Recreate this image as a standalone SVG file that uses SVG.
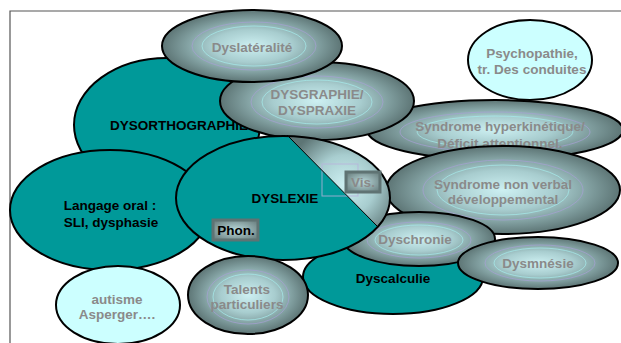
<svg xmlns="http://www.w3.org/2000/svg" width="621" height="343" viewBox="0 0 621 343">
<style>
.e{stroke:#000;stroke-width:2}
.teal{fill:#009999}
.cyan{fill:#ccffff}
.gray{fill:url(#rg)}
.r1{fill:none;stroke:#a79fd4;stroke-width:1;opacity:.7}
.r2{fill:none;stroke:#a6ecec;stroke-width:1;opacity:.7}
text{font-family:"Liberation Sans",Arial,sans-serif;font-weight:bold;font-size:13.5px;text-anchor:middle}
.dk{fill:#000}
.lt{fill:#8a8a8a}
.box{fill:url(#bg);stroke:#5f7373;stroke-width:3}
</style>
<defs>
<radialGradient id="rg" cx="50%" cy="50%" r="50%">
<stop offset="0" stop-color="#cdf0f2"/>
<stop offset="0.45" stop-color="#a8cdcf"/>
<stop offset="1" stop-color="#5d7575"/>
</radialGradient>
<radialGradient id="bg" cx="50%" cy="50%" r="60%">
<stop offset="0" stop-color="#b8d8da"/>
<stop offset="1" stop-color="#6f8585"/>
</radialGradient>
<radialGradient id="dg" gradientUnits="userSpaceOnUse" cx="345" cy="185" r="60">
<stop offset="0" stop-color="#cdf0f2"/>
<stop offset="0.5" stop-color="#a8cdcf"/>
<stop offset="1" stop-color="#5d7575"/>
</radialGradient>
<clipPath id="dc"><ellipse cx="283" cy="198" rx="107" ry="62"/></clipPath>
</defs>
<g id="frame"><path d="M10 343V11H621" fill="none" stroke="#555" stroke-width="1.2"/></g>
<g id="connectors"></g>
<g id="dysorthographie"><ellipse class="e teal" cx="167" cy="125" rx="93" ry="67"/><text class="dk" x="110" y="130" style="text-anchor:start">DYSORTHOGRAPHIE</text></g>
<g id="hyperkinetique"><ellipse class="e gray" cx="495" cy="130" rx="128" ry="30"/><ellipse class="r1" cx="495" cy="132" rx="95" ry="20"/><ellipse class="r2" cx="495" cy="132" rx="78" ry="16"/><text class="lt" x="500" y="131">Syndrome hyperkinétique/</text><text class="lt" x="500" y="148">Déficit attentionnel.</text></g>
<g id="nonverbal"><ellipse class="e gray" cx="503" cy="190" rx="117" ry="44"/><ellipse class="r1" cx="503" cy="190" rx="80" ry="30"/><ellipse class="r2" cx="503" cy="190" rx="66" ry="25"/><text class="lt" x="503" y="189">Syndrome non verbal</text><text class="lt" x="503" y="204">développemental</text></g>
<g id="dysgraphie"><ellipse class="e gray" cx="317" cy="101" rx="97" ry="39"/><ellipse class="r1" cx="317" cy="102" rx="66" ry="26"/><ellipse class="r2" cx="317" cy="102" rx="55" ry="22"/><text class="lt" x="317" y="99">DYSGRAPHIE/</text><text class="lt" x="317" y="115">DYSPRAXIE</text></g>
<g id="dyslateralite"><ellipse class="e gray" cx="252" cy="46" rx="90" ry="36"/><ellipse class="r1" cx="254" cy="46" rx="62" ry="24"/><ellipse class="r2" cx="254" cy="46" rx="52" ry="20"/><text class="lt" x="252" y="52">Dyslatéralité</text></g>
<g id="psychopathie"><ellipse class="e cyan" cx="530" cy="60" rx="62" ry="40"/><text class="lt" x="532" y="58">Psychopathie,</text><text class="lt" x="532" y="74">tr. Des conduites</text></g>
<g id="langage"><ellipse class="e teal" cx="110" cy="210" rx="100" ry="60"/><text class="dk" x="110" y="210">Langage oral :</text><text class="dk" x="111" y="227">SLI, dysphasie</text></g>
<g id="dyscalculie"><ellipse class="e teal" cx="393" cy="277" rx="90" ry="37"/><text class="dk" x="393" y="283">Dyscalculie</text></g>
<g id="dyschronie"><ellipse class="e gray" cx="419" cy="239" rx="76" ry="27"/><ellipse class="r1" cx="419" cy="240" rx="52" ry="18"/><ellipse class="r2" cx="419" cy="240" rx="44" ry="15"/><text class="lt" x="415" y="244">Dyschronie</text></g>
<g id="dysmnesie"><ellipse class="e gray" cx="538" cy="263" rx="80" ry="26"/><ellipse class="r1" cx="540" cy="263" rx="55" ry="18"/><ellipse class="r2" cx="540" cy="263" rx="46" ry="15"/><text class="lt" x="538" y="268">Dysmnésie</text></g>
<g id="dyslexie">
<ellipse class="teal" cx="283" cy="198" rx="107" ry="62"/>
<polygon points="287,135 378,227 400,250 400,130" fill="url(#dg)" clip-path="url(#dc)"/>
<rect x="322" y="164" width="36" height="32" fill="none" stroke="#b8b0dc" stroke-width="1" opacity=".8"/>
<line x1="287" y1="135" x2="378" y2="227" stroke="#000" stroke-width="1"/>
<ellipse class="e" cx="283" cy="198" rx="107" ry="62" fill="none"/>
<text class="dk" x="285" y="203">DYSLEXIE</text>
</g>
<g id="vis"><rect class="box" x="346" y="172" width="34" height="20"/><text class="lt" x="363" y="187">Vis.</text></g>
<g id="phon"><rect class="box" x="213" y="220" width="45" height="20"/><text class="dk" x="236" y="235">Phon.</text></g>
<g id="talents"><ellipse class="e gray" cx="248" cy="295" rx="60" ry="39"/><ellipse class="r1" cx="248" cy="297" rx="41" ry="27"/><ellipse class="r2" cx="248" cy="297" rx="35" ry="23"/><text class="lt" x="247" y="294">Talents</text><text class="lt" x="247" y="309">particuliers</text></g>
<g id="autisme"><ellipse class="e cyan" cx="118" cy="305" rx="62" ry="39"/><text class="lt" x="117" y="304">autisme</text><text class="lt" x="117" y="319">Asperger….</text></g>
</svg>
